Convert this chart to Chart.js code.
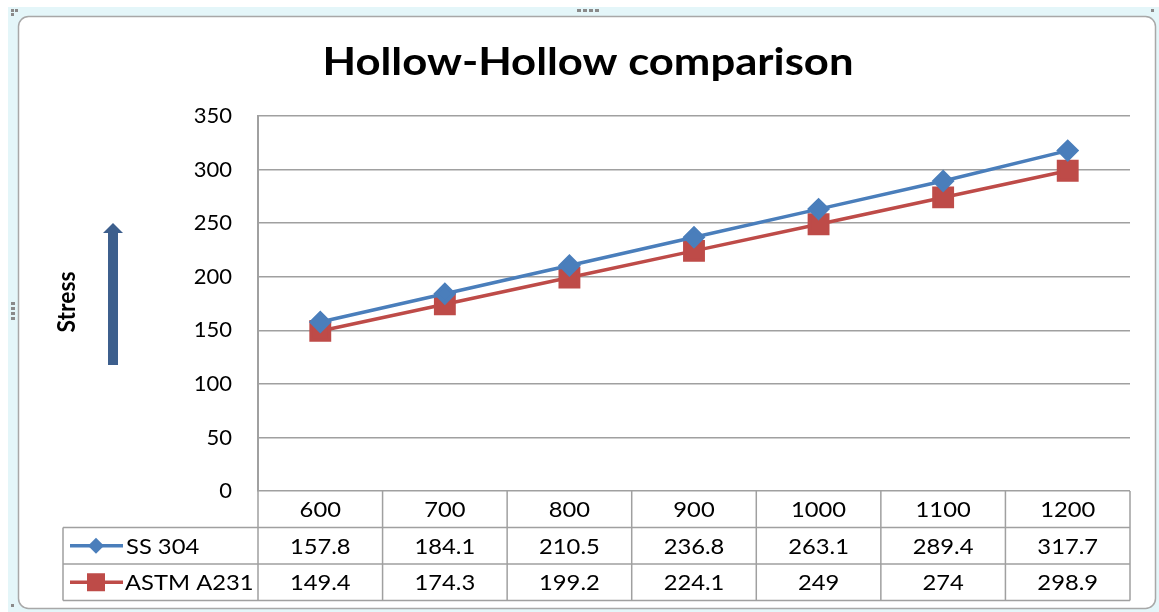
<!DOCTYPE html>
<html>
<head>
<meta charset="utf-8">
<script src="https://cdn.jsdelivr.net/npm/chart.js@4.4.0/dist/chart.umd.min.js"></script>
<style>
  html, body { margin: 0; padding: 0; background: #fff; }
  #wrap { width: 1159px; height: 612px; }
</style>
</head>
<body>
<div id="wrap"><canvas id="myChart" width="1159" height="612"></canvas></div>
<script>
// data
var lengths = ['600', '700', '800', '900', '1000', '1100', '1200'];
var ss304 = [157.8, 184.1, 210.5, 236.8, 263.1, 289.4, 317.7];
var astmA231 = [149.4, 174.3, 199.2, 224.1, 249, 274, 298.9];
var seriesNames = ['SS 304', 'ASTM A231'];
var yMin = 0, yMax = 350, yStep = 50;

var titleText = 'Hollow-Hollow comparison';
var axisText = 'Stress';

var blue = '#4a7ebb';
var red = '#be4b48';
var gridGray = '#a0a0a0';
var FONT = 'Lato, "Open Sans", sans-serif';

// frame, title, stress arrow
var decorPlugin = {
  id: 'decor',
  beforeDraw: function(chart) {
    var ctx = chart.ctx;
    ctx.save();
    // outer frame like the excel chart object
    ctx.fillStyle = '#e4f6f9';
    ctx.fillRect(8, 7, 1151, 605);
    ctx.fillStyle = '#fff';
    ctx.strokeStyle = '#a8a8a8';
    ctx.lineWidth = 1.5;
    ctx.beginPath();
    ctx.roundRect(18.5, 16.5, 1137, 592, 10);
    ctx.fill();
    ctx.stroke();
    // little handles
    ctx.fillStyle = '#8a8a8a';
    for (var i = 0; i < 4; i++) {
      ctx.fillRect(577 + i * 6, 9, 4, 3);
      ctx.fillRect(11, 302 + i * 5, 4, 3);
    }
    ctx.fillRect(11, 9, 3, 3); ctx.fillRect(15, 9, 3, 3); ctx.fillRect(11, 13, 3, 3);
    ctx.fillRect(1151, 9, 3, 3);
    ctx.fillRect(11, 604, 3, 3);
    ctx.restore();
  },
  afterDraw: function(chart) {
    var ctx = chart.ctx;
    ctx.save();
    // title, stretched a bit to the original width
    ctx.fillStyle = '#000';
    ctx.font = 'bold 38px ' + FONT;
    ctx.textAlign = 'center';
    ctx.textBaseline = 'middle';
    var w = ctx.measureText(titleText).width;
    ctx.save();
    ctx.translate(588, 63);
    ctx.scale(531 / w, 1);
    ctx.fillText(titleText, 0, 0);
    ctx.restore();
    // rotated axis text
    ctx.save();
    ctx.translate(67, 302);
    ctx.rotate(-Math.PI / 2);
    ctx.font = 'bold 23px ' + FONT;
    var sw = ctx.measureText(axisText).width;
    ctx.scale(61 / sw, 1.1);
    ctx.fillText(axisText, 0, 0);
    ctx.restore();
    // up arrow
    ctx.fillStyle = '#3d5f8d';
    ctx.fillRect(108, 231, 10, 134);
    ctx.beginPath();
    ctx.moveTo(103, 233);
    ctx.lineTo(113, 223);
    ctx.lineTo(123, 233);
    ctx.closePath();
    ctx.fill();
    ctx.restore();
  }
};

// data table below the plot, columns from the x scale
var tablePlugin = {
  id: 'dataTable',
  afterDraw: function(chart) {
    var ctx = chart.ctx;
    var area = chart.chartArea;
    var xs = chart.scales.x;
    var rowH = 36.5;
    var top = area.bottom;
    var keyLeft = 63;
    var half = (xs.getPixelForValue(1) - xs.getPixelForValue(0)) / 2;
    ctx.save();
    ctx.strokeStyle = gridGray;
    ctx.lineWidth = 1.5;
    ctx.beginPath();
    // column lines
    for (var i = 0; i <= lengths.length; i++) {
      var x = i < lengths.length ? xs.getPixelForValue(i) - half : xs.getPixelForValue(lengths.length - 1) + half;
      ctx.moveTo(x, top);
      ctx.lineTo(x, top + rowH * 3);
    }
    // row lines
    for (var r = 1; r <= 3; r++) {
      ctx.moveTo(keyLeft, top + rowH * r);
      ctx.lineTo(area.right, top + rowH * r);
    }
    ctx.moveTo(keyLeft, top + rowH);
    ctx.lineTo(keyLeft, top + rowH * 3);
    ctx.stroke();

    ctx.fillStyle = '#000';
    ctx.font = '22px ' + FONT;
    ctx.textBaseline = 'middle';
    var rows = [lengths, ss304, astmA231];
    for (var r2 = 0; r2 < rows.length; r2++) {
      for (var c = 0; c < rows[r2].length; c++) {
        ctx.save();
        ctx.translate(xs.getPixelForValue(c), top + rowH * r2 + rowH / 2 + 1);
        ctx.scale(1.08, 1);
        ctx.textAlign = 'center';
        ctx.fillText(String(rows[r2][c]), 0, 0);
        ctx.restore();
      }
    }

    // legend keys
    var colors = [blue, red];
    for (var k = 0; k < 2; k++) {
      var cy = top + rowH * (k + 1) + rowH / 2;
      ctx.strokeStyle = colors[k];
      ctx.fillStyle = colors[k];
      ctx.lineWidth = 3.5;
      ctx.beginPath();
      ctx.moveTo(70, cy);
      ctx.lineTo(123, cy);
      ctx.stroke();
      if (k === 0) {
        ctx.beginPath();
        ctx.moveTo(96, cy - 8);
        ctx.lineTo(104, cy);
        ctx.lineTo(96, cy + 8);
        ctx.lineTo(88, cy);
        ctx.closePath();
        ctx.fill();
      } else {
        ctx.fillRect(87, cy - 9, 18, 18);
      }
      ctx.fillStyle = '#000';
      ctx.save();
      ctx.translate(k === 0 ? 126 : 125, cy + 1);
      ctx.scale(1.08, 1);
      ctx.textAlign = 'left';
      ctx.fillText(seriesNames[k], 0, 0);
      ctx.restore();
    }
    ctx.restore();
  }
};

var ctx = document.getElementById('myChart');
var myChart = new Chart(ctx, {
  type: 'line',
  data: {
    labels: lengths,
    datasets: [{
      label: seriesNames[0],
      data: ss304,
      borderColor: blue,
      backgroundColor: blue,
      borderWidth: 3.5,
      pointStyle: 'rectRot',
      pointRadius: 9,
      tension: 0
    }, {
      label: seriesNames[1],
      data: astmA231,
      borderColor: red,
      backgroundColor: red,
      borderWidth: 3.5,
      pointStyle: 'rect',
      pointRadius: 13,
      tension: 0
    }]
  },
  options: {
    responsive: false,
    animation: false,
    layout: { padding: { left: 170, right: 29, top: 116, bottom: 121 } },
    plugins: {
      legend: { display: false },
      title: { display: false },
      tooltip: { enabled: false }
    },
    scales: {
      x: { display: false, offset: true },
      y: {
        min: yMin,
        max: yMax,
        ticks: { stepSize: yStep, padding: 26, color: '#000', font: { family: FONT, size: 22 } },
        grid: { color: gridGray, lineWidth: 1.5, drawTicks: false },
        border: { display: true, color: gridGray, width: 2 },
        afterFit: function(scale) { scale.width = 88; }
      }
    }
  },
  plugins: [decorPlugin, tablePlugin]
});
</script>
</body>
</html>
